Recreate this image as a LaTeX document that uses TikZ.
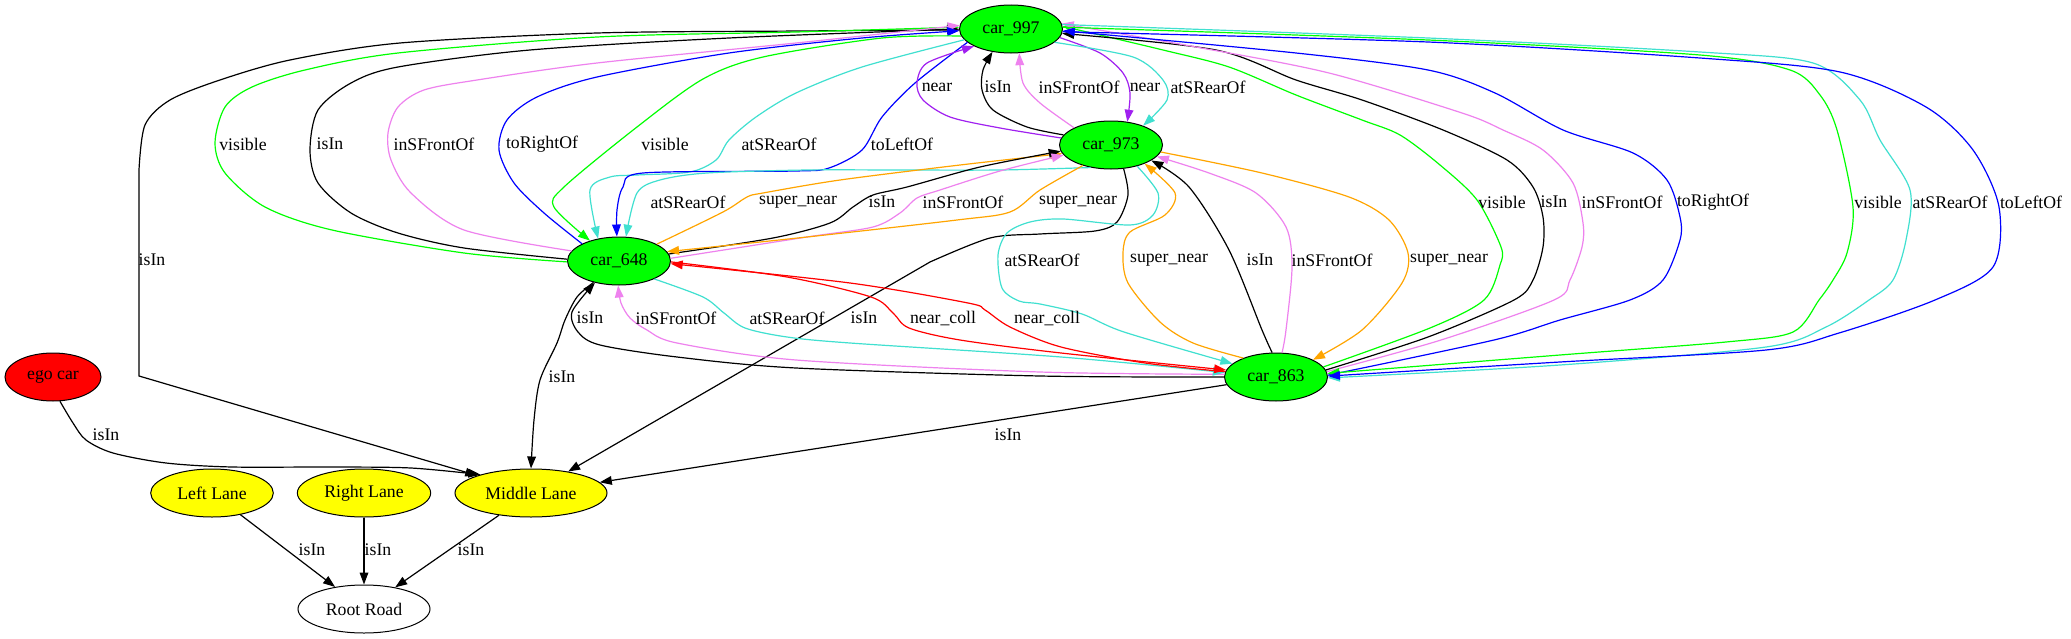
\documentclass[tikz,border=0pt]{standalone}
\usepackage{fontspec}
\setmainfont{Liberation Serif}
\usetikzlibrary{shapes.geometric,arrows.meta}
\definecolor{gvgreen}{HTML}{00FF00}
\definecolor{gvviolet}{HTML}{EE82EE}
\definecolor{gvpurple}{HTML}{A020F0}
\definecolor{gvcyan}{HTML}{40E0D0}
\definecolor{gvorange}{HTML}{FFA500}
\definecolor{gvblue}{HTML}{0000FF}
\definecolor{gvred}{HTML}{FF0000}
\definecolor{gvyellow}{HTML}{FFFF00}
\begin{document}
\begin{tikzpicture}[x=0.75pt,y=-0.75pt,font=\fontsize{13.3}{15}\selectfont,
  nd/.style={ellipse,draw=black,line width=0.75pt,inner sep=0pt,minimum height=36pt},
  car/.style={nd,fill=gvgreen,minimum width=77.25pt},
  lane/.style={nd,fill=gvyellow},
  lbl/.style={inner sep=0pt},
  e/.style={line width=0.9pt,-{Triangle[length=9pt,width=6.5pt]}}]
\fill[white] (0,0) rectangle (2071,639);
\useasboundingbox (0,0) rectangle (2071,639);

% nodes
\node[car] (c997) at (1011,29) {car\_997};
\node[car] (c973) at (1111,145) {car\_973};
\node[car] (c648) at (619,261) {car\_648};
\node[car] (c863) at (1276,377) {car\_863};
\node[nd,fill=gvred,minimum width=72pt] (ego) at (53,377) {ego car};
\node[lane,minimum width=92pt] (ll) at (212,493) {Left Lane};
\node[lane,minimum width=100pt] (rl) at (364,493) {Right Lane};
\node[lane,minimum width=114pt] (ml) at (531,493) {Middle Lane};
\node[nd,fill=white,minimum width=99pt] (rr) at (364,609) {Root Road};

% car_997 -> Middle Lane
\draw[e,black] plot[smooth,tension=0.5] coordinates {(c997.181) (800,31) (597,33) (400,43) (290,60) (220,80) (170,100) (145,125) (139,170)} -- (139,376) -- (ml.162);
% car_648 -> car_997 (left group)
\draw[e,gvgreen] plot[smooth,tension=0.5] coordinates {(c648.181) (464,253) (332,230) (265,207) (225,173) (215,143) (225,107) (252,87) (305,70) (398,53) (597,37) (796,32) (c997.178)};
\draw[e,black] plot[smooth,tension=0.5] coordinates {(c648.178) (464,248) (398,233) (351,213) (318,183) (310,150) (318,110) (351,83) (398,67) (530,50) (729,38) (c997.180)};
\draw[e,gvviolet] plot[smooth,tension=0.5] coordinates {(c648.168) (464,230) (411,193) (391,160) (388,133) (398,107) (424,90) (477,80) (597,63) (796,43) (c997.176)};
\draw[e,gvblue] plot[smooth,tension=0.5] coordinates {(c648.155) (544,213) (514,183) (499,150) (507,120) (537,97) (597,77) (729,53) (862,38) (c997.182)};
% car_997 -> car_648
\draw[e,gvgreen] plot[smooth,tension=0.5] coordinates {(c997.188) (882,38) (763,57) (703,79) (637,127) (564,187) (554,207) (c648.145)};
\draw[e,gvcyan] plot[smooth,tension=0.5] coordinates {(c997.193) (862,67) (796,93) (756,117) (729,140) (716,160) (690,172) (637,175) (610,177) (590,190) (c648.133)};
\draw[e,gvblue] plot[smooth,tension=0.5] coordinates {(c997.197) (915,83) (882,117) (862,150) (829,168) (796,171) (643,173) (623,187) (617,210) (c648.95)};
% car_973 <-> car_648
\draw[e,gvcyan] plot[smooth,tension=0.5] coordinates {(c973.228) (1000,170) (900,170) (807,170) (707,173) (660,180) (637,193) (c648.74)};
\draw[e,gvorange] plot[smooth,tension=0.5] coordinates {(c648.24) (723,212) (747,197) (763,193) (840,180) (960,165) (c973.190)};
\draw[e,black] plot[smooth,tension=0.5] coordinates {(c648.8) (773,238) (830,223) (853,207) (873,195) (907,187) (980,167) (c973.187)};
\draw[e,gvviolet] plot[smooth,tension=0.5] coordinates {(c648.3) (807,237) (873,227) (900,213) (917,198) (940,190) (1000,171) (c973.192)};
\draw[e,gvorange] plot[smooth,tension=0.5] coordinates {(c973.216) (1040,190) (1010,212) (957,220) (807,237) (c648.11)};
% car_973 -> Middle Lane
\draw[e,black] plot[smooth,tension=0.5] coordinates {(c973.298) (1128,195) (1117,222) (1095,231) (1040,234) (990,238) (930,262)} -- (ml.30);
% car_973 <-> car_997
\draw[e,gvpurple] plot[smooth,tension=0.5] coordinates {(c973.172) (1000,128) (950,117) (923,100) (917,83) (927,63) (c997.205)};
\draw[e,black] plot[smooth,tension=0.5] coordinates {(c973.168) (1027,127) (993,110) (982,90) (983,70) (c997.231)};
\draw[e,gvviolet] plot[smooth,tension=0.5] coordinates {(c973.155) (1040,103) (1023,83) (c997.289)};
\draw[e,gvpurple] plot[smooth,tension=0.5] coordinates {(c997.350) (1100,53) (1123,73) (1130,93) (c973.55)};
\draw[e,gvcyan] plot[smooth,tension=0.5] coordinates {(c997.343) (1133,57) (1163,80) (1167,100) (c973.31)};
% car_973 <-> car_863
\draw[e,gvcyan] plot[smooth,tension=0.5] coordinates {(c973.321) (1158,193) (1153,215) (1130,225) (1063,219) (1030,222) (1007,233) (998,255) (1002,288) (1019,301) (1040,304) (1082,314) (1124,332) (c863.163)};
\draw[e,gvorange] plot[smooth,tension=0.5] coordinates {(c863.150) (1193,343) (1160,322) (1128,283) (1123,253) (1130,232) (1165,215) (1175,193) (c973.331)};
\draw[e,black] plot[smooth,tension=0.5] coordinates {(c863.99) (1262,330) (1229,250) (1189,187) (c973.339)};
\draw[e,gvviolet] plot[smooth,tension=0.5] coordinates {(c863.76) (1286,330) (1292,267) (1286,227) (1256,193) (1209,173) (c973.346)};
\draw[e,gvorange] plot[smooth,tension=0.5] coordinates {(c973.352) (1262,173) (1349,197) (1389,220) (1408,253) (1402,283) (1362,330) (c863.25)};
% car_863 <-> car_648
\draw[e,black] plot[smooth,tension=0.5] coordinates {(c863.180) (1040,376) (796,368) (677,357) (600,345) (578,332) (572,312) (c648.222)};
\draw[e,gvviolet] plot[smooth,tension=0.5] coordinates {(c863.177) (1040,372) (796,360) (677,343) (647,330) (630,318) (621,303) (c648.268)};
\draw[e,gvcyan] plot[smooth,tension=0.5] coordinates {(c648.333) (703,297) (724,313) (745,328) (787,337) (850,343) (1061,357) (c863.175)};
\draw[e,gvred] plot[smooth,tension=0.5] coordinates {(c648.359) (787,277) (871,297) (893,313) (909,328) (960,340) (1061,353) (c863.172)};
\draw[e,gvred] plot[smooth,tension=0.5] coordinates {(c863.174) (1145,363) (1061,347) (1010,327) (985,310) (968,303) (850,283) (c648.357)};
% car_648 -> Middle Lane
\draw[e,black] plot[smooth,tension=0.5] coordinates {(c648.220) (577,297) (565,320) (557,343) (540,380) (534,420) (ml.90)};
% car_863 -> Middle Lane
\draw[e,black] (c863) -- (ml);
% ego -> Middle Lane
\draw[e,black] plot[smooth,tension=0.5] coordinates {(ego.286) (73,423) (86,440) (113,453) (166,463) (232,467) (332,467) (411,468) (ml.160)};
% lanes -> road
\draw[e,black] (ll) -- (rr);
\draw[e,black] (rl) -- (rr);
\draw[e,black] (ml) -- (rr);
% car_863 -> car_997 (right group)
\draw[e,gvgreen] plot[smooth,tension=0.5] coordinates {(c863.12) (1430,328) (1484,300) (1500,265) (1501,247) (1477,200) (1440,165) (1400,135) (1362,120) (1296,95) (1229,67) (1163,50) (c997.3)};
\draw[e,black] plot[smooth,tension=0.5] coordinates {(c863.8) (1428,337) (1514,300) (1533,280) (1543,247) (1543,217) (1533,187) (1507,160) (1443,130) (1362,100) (1296,80) (1216,50) (c997.-5)};
\draw[e,gvviolet] plot[smooth,tension=0.5] coordinates {(c863.6) (1441,340) (1554,300) (1570,280) (1582,247) (1583,223) (1573,183) (1543,150) (1503,130) (1462,113) (1329,73) (1196,47) (c997.6)};
\draw[e,gvblue] plot[smooth,tension=0.5] coordinates {(c863.2) (1494,340) (1560,320) (1630,300) (1663,280) (1680,240) (1680,217) (1667,180) (1633,153) (1563,130) (1495,93) (1428,70) (1296,53) (c997.-2)};
% car_997 -> car_863 (far right)
\draw[e,gvgreen] plot[smooth,tension=0.5] coordinates {(c997.2) (1428,40) (1700,55) (1790,70) (1820,95) (1837,130) (1853,207) (1847,253) (1833,280) (1819,300) (1793,332) (1726,342) (1560,355) (c863.4)};
\draw[e,gvcyan] plot[smooth,tension=0.5] coordinates {(c997.5) (1428,38) (1700,52) (1813,63) (1860,100) (1880,140) (1910,190) (1906,240) (1893,280) (1869,300) (1826,327) (1766,347) (1560,365) (c863.-1)};
\draw[e,gvblue] plot[smooth,tension=0.5] coordinates {(c997.-3) (1428,42) (1700,58) (1840,72) (1926,107) (1973,150) (1999,207) (1993,267) (1935,300) (1839,333) (1766,350) (1560,362) (c863.1)};

% labels
\node[lbl] (l01) at (243,144) {visible};
\node[lbl] (l02) at (330,144) {isIn};
\node[lbl] (l03) at (434,144) {inSFrontOf};
\node[lbl] (l04) at (542,144) {toRightOf};
\node[lbl] (l05) at (665,144) {visible};
\node[lbl] (l06) at (779,144) {atSRearOf};
\node[lbl] (l07) at (902,144) {toLeftOf};
\node[lbl] (l08) at (937,87) {near};
\node[lbl] (l09) at (998,87) {isIn};
\node[lbl] (l10) at (1079,87) {inSFrontOf};
\node[lbl] (l11) at (1145,87) {near};
\node[lbl] (l12) at (1208,87) {atSRearOf};
\node[lbl] (l13) at (688,202) {atSRearOf};
\node[lbl] (l14) at (798,202) {super\_near};
\node[lbl] (l15) at (882,202) {isIn};
\node[lbl] (l16) at (963,202) {inSFrontOf};
\node[lbl] (l17) at (1078,202) {super\_near};
\node[lbl] (l18) at (1502,202) {visible};
\node[lbl] (l19) at (1554,202) {isIn};
\node[lbl] (l20) at (1622,202) {inSFrontOf};
\node[lbl] (l21) at (1713,202) {toRightOf};
\node[lbl] (l22) at (1878,202) {visible};
\node[lbl] (l23) at (1950,202) {atSRearOf};
\node[lbl] (l24) at (2031,202) {toLeftOf};
\node[lbl] (l25) at (152,260) {isIn};
\node[lbl] (l26) at (1042,260) {atSRearOf};
\node[lbl] (l27) at (1169,260) {super\_near};
\node[lbl] (l28) at (1260,260) {isIn};
\node[lbl] (l29) at (1332,260) {inSFrontOf};
\node[lbl] (l30) at (1449,260) {super\_near};
\node[lbl] (l31) at (590,318) {isIn};
\node[lbl] (l32) at (676,318) {inSFrontOf};
\node[lbl] (l33) at (787,318) {atSRearOf};
\node[lbl] (l34) at (864,318) {isIn};
\node[lbl] (l35) at (943,318) {near\_coll};
\node[lbl] (l36) at (1047,318) {near\_coll};
\node[lbl] (l37) at (562,377) {isIn};
\node[lbl] (l38) at (106,435) {isIn};
\node[lbl] (l39) at (1008,435) {isIn};
\node[lbl] (l40) at (312,550) {isIn};
\node[lbl] (l41) at (378,550) {isIn};
\node[lbl] (l42) at (471,550) {isIn};
\end{tikzpicture}
\end{document}
